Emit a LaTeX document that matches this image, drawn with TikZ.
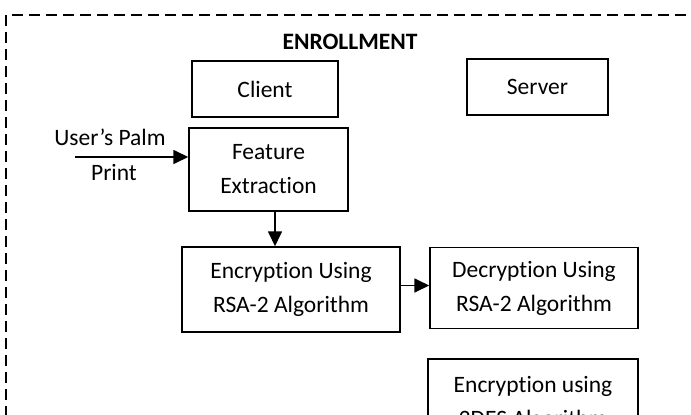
\documentclass[tikz,border=0pt]{standalone}
\usepackage{fontspec}
\setmainfont{Carlito}[Ligatures=NoCommon]
\usetikzlibrary{arrows.meta,positioning,calc}

\newcommand*{\pgW}{691}
\newcommand*{\pgH}{415}

\begin{document}
\begin{tikzpicture}[x=1pt,y=-1pt,
    every node/.style={font=\fontsize{23.5}{34}\selectfont},
    box/.style={draw,line width=1.5pt,align=center,inner sep=0pt},
    arr/.style={line width=1.7pt,-{Triangle[length=15pt,width=14pt]}}]
    \useasboundingbox (0,0) rectangle (\pgW,\pgH);
    \clip (0,0) rectangle (\pgW,\pgH);
    \draw [line width=1.7pt,dash pattern=on 11pt off 6pt] (6,15) rectangle (720,440);

    \node[font=\fontsize{23.5}{34}\selectfont\bfseries] (title) at (350,42) {ENROLLMENT};
    \node[box,minimum width=146pt,minimum height=56pt] (client) at (265,89) {Client};
    \node[box,minimum width=141pt,minimum height=56pt] (server) at (537.5,87) {Server};
    \node[box,minimum width=159pt,minimum height=83pt] (feat) at (268.5,169.5) {Feature\\Extraction};
    \node[box,minimum width=218pt,minimum height=85pt] (enc) at (291,289.5) {Encryption Using\\RSA-2 Algorithm};
    \node[box,minimum width=208pt,minimum height=81pt] (dec) at (534,288) {Decryption Using\\RSA-2 Algorithm};
    \node[box,minimum width=210pt,minimum height=88pt] (tdes) at (533,403) {Encryption using\\3DES Algorithm};

    \node[] (palm) at (110,137) {User’s Palm};
    \node[] (print) at (114,173) {Print};
    \coordinate (in) at (75,157);

    \draw [arr] (in) -- (in -| feat.west);
    \draw [arr] ([xshift=6.5pt]feat.south) -- ([xshift=6.5pt]feat.south |- enc.north);
    \draw [arr] ([yshift=4pt]enc.east) -- ([yshift=4pt]enc.east -| dec.west);
\end{tikzpicture}
\end{document}
